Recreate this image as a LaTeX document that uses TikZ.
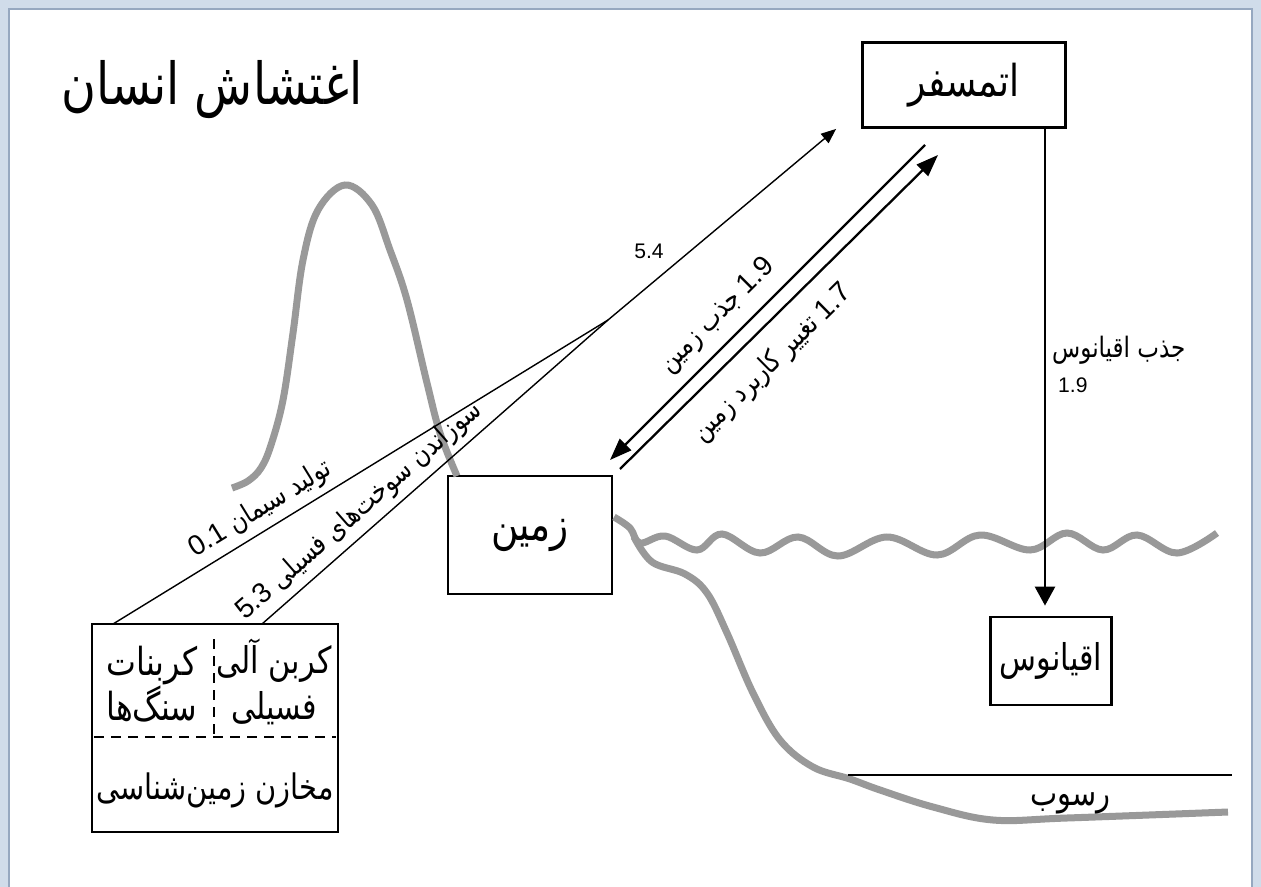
\documentclass[tikz,border=0pt]{standalone}
\usepackage{fontspec}
\usetikzlibrary{arrows.meta,calc}
\TeXXeTstate=1
\newfontfamily\arabicfont[Script=Arabic,FakeStretch=0.82]{DejaVu Sans}
\newfontfamily\numfont{Liberation Sans}
\definecolor{crust}{RGB}{153,153,153}
\definecolor{frameblue}{RGB}{208,220,234}
\definecolor{frameedge}{RGB}{150,168,192}
\newcommand{\fa}[1]{{\arabicfont\beginR #1\endR}}
\newcommand{\nm}[1]{\beginL{\numfont #1}\endL}

\begin{document}
\begin{tikzpicture}[x=0.2mm,y=-0.2mm,
	box/.style={draw,line width=1.6pt,inner sep=0pt},
	flux/.style={line width=1.3pt},
	thinflux/.style={line width=0.8pt},
	crustline/.style={draw=crust,line width=1.4mm},
	divider/.style={line width=0.7pt,dash pattern=on 2mm off 1.4mm},
	huge/.style={font=\fontsize{33}{40}\selectfont},
	big/.style={font=\fontsize{25}{30}\selectfont},
	mid/.style={font=\fontsize{21}{26}\selectfont,align=center},
	small/.style={font=\fontsize{16}{19}\selectfont},
	num/.style={font=\fontsize{12}{14}\numfont}]
	\useasboundingbox (0,0) rectangle (1261,887);
	% frame
	\fill[frameblue] (0,0) rectangle (1261,887);
	\fill[white] (10,10) rectangle (1252,887);
	\draw[frameedge,line width=1pt] (9,887) -- (9,9) -- (1252,9) -- (1252,887);

	\node[huge] (title) at (212,90) {\fa{اغتشاش انسان}};
	\node[box,big,minimum width=40.6mm,minimum height=17mm] (atm) at (964,85) {\fa{اتمسفر}};
	\node[box,big,font=\fontsize{26}{30}\selectfont,minimum width=32.8mm,minimum height=23.6mm] (lnd) at (530,535) {\fa{زمین}};
	\node[box,big,font=\fontsize{21}{25}\selectfont,minimum width=24.2mm,minimum height=17.6mm] (ocn) at (1051,661) {\fa{اقیانوس}};
	\node[box,line width=1pt,minimum width=49.2mm,minimum height=41.6mm] (geo) at (215,728) {};
	\node[mid] (org) at (274,682) {\fa{کربن آلی}\\\fa{فسیلی}};
	\node[mid,font=\fontsize{22}{26}\selectfont] (crb) at (152,684) {\fa{کربنات}\\\fa{سنگ^^^^200cها}};
	\node[mid,font=\fontsize{20}{24}\selectfont] (res) at (215,790) {\fa{مخازن زمین^^^^200cشناسی}};
	\draw[divider] ($(geo.north)+(-1,16)$) -- ($(geo.center)+(-1,7)$);
	\draw[divider] ($(geo.west)+(3,9)$) -- ($(geo.east)+(-3,9)$);

	% earth surface, sea and sediment
	\draw[crustline] plot[smooth,tension=0.6] coordinates {(232,488) (248,481) (261,468) (271,445) (283,400) (293,333) (303,260) (318,210) (345,185) (372,205) (390,250) (407,300) (427,383) (440,433) (457,476)};
	\draw[crustline] plot[smooth,tension=0.6] coordinates {(614,517) (630,528) (640,543) (665,536) (697,550) (722,534) (760,553) (798,537) (838,556) (887,537) (937,555) (980,535) (1030,550) (1067,533) (1103,550) (1137,535) (1177,553) (1217,533)};
	\draw[crustline] plot[smooth,tension=0.6] coordinates {(634,537) (652,562) (685,574) (707,593) (727,633) (753,693) (780,740) (813,767) (850,779) (880,790) (933,807) (993,820) (1067,818) (1228,812)};
	\coordinate (sl) at (848,775);
	\coordinate (sr) at (1232,775);
	\draw[line width=1.5pt] (sl) -- node[pos=0.58,below=6pt,font=\fontsize{20}{24}\selectfont] (sed) {\fa{رسوب}} (sr);

	% fluxes
	\coordinate (cem) at (113,624);
	\coordinate (fos) at (262,624);
	\coordinate (j) at (608,320);
	\coordinate (a54) at ($(atm.south west)+(-25,0)$);
	\coordinate (a1) at (925,145);
	\coordinate (l1) at (610,460);
	\coordinate (l2) at (620,469);
	\coordinate (a2) at (938,155);
	\coordinate (oin) at ($(ocn.north)+(-6,-10)$);

	\draw[thinflux] (cem) -- node[sloped,above,pos=0.32,small] {\fa{تولید سیمان \nm{0.1}}} (j);
	\draw[thinflux] (fos) -- node[sloped,above,pos=0.32,small] {\fa{سوزاندن سوخت^^^^200cهای فسیلی \nm{5.3}}} (j);
	\draw[thinflux,-{Triangle[length=3mm,width=2.4mm]}] (j) -- node[pos=0.18,above=4mm,num] {5.4} (a54);
	\draw[flux,-{Triangle[length=4.4mm,width=3.2mm]}] (a1) -- node[sloped,above=3pt,pos=0.6,small] {\fa{\nm{1.9} جذب زمین}} (l1);
	\draw[flux,-{Triangle[length=4.4mm,width=3.2mm]}] (l2) -- node[sloped,below=6pt,pos=0.41,small] {\fa{\nm{1.7} تغییر کاربرد زمین}} (a2);
	\draw[flux,line width=1.5pt,-{Triangle[length=3.8mm,width=4mm]}] (atm.south -| oin) -- (oin);
	\node[small,anchor=west] (oclab) at (1046,350) {\fa{جذب اقیانوس}};
	\node[num,anchor=west] (ocnum) at (1052,385) {1.9};
\end{tikzpicture}
\end{document}
